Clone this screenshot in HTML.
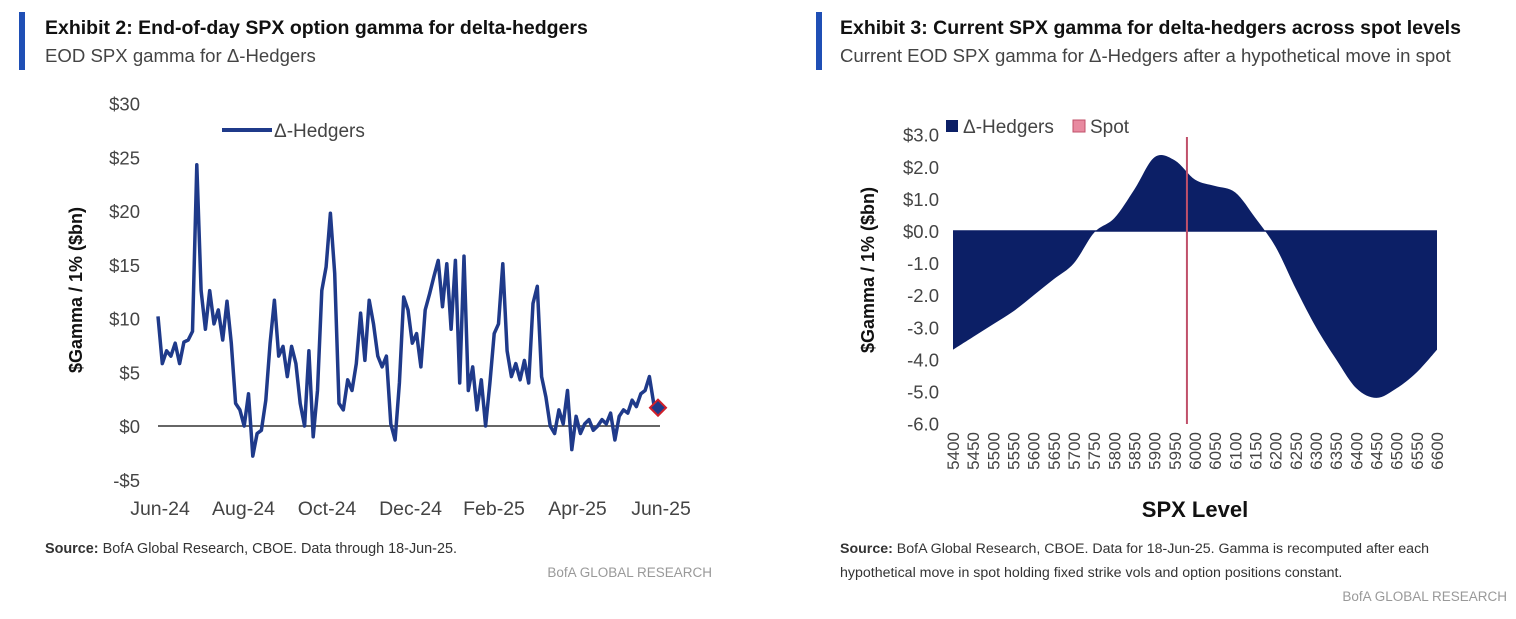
<!DOCTYPE html>
<html><head><meta charset="utf-8"><style>
body{margin:0;width:1516px;height:614px;background:#fff;font-family:"Liberation Sans",sans-serif;overflow:hidden}
</style></head><body>
<svg width="1516" height="614" xmlns="http://www.w3.org/2000/svg" font-family="Liberation Sans, sans-serif">
<g>
<rect x="19" y="12" width="6" height="58" fill="#1f4fb5"/>
<text x="45" y="34" font-size="19.5" font-weight="bold" fill="#111">Exhibit 2: End-of-day SPX option gamma for delta-hedgers</text>
<text x="45" y="62" font-size="18.6" fill="#444">EOD SPX gamma for Δ-Hedgers</text>
</g>
<g>
<rect x="816" y="12" width="6" height="58" fill="#1f4fb5"/>
<text x="840" y="34" font-size="19.5" font-weight="bold" fill="#111">Exhibit 3: Current SPX gamma for delta-hedgers across spot levels</text>
<text x="840" y="62" font-size="18.6" fill="#444">Current EOD SPX gamma for Δ-Hedgers after a hypothetical move in spot</text>
</g>
<g id="left"></g>
<g id="right"></g>
<text x="45" y="553" font-size="14.4" fill="#333"><tspan font-weight="bold">Source:</tspan> BofA Global Research, CBOE. Data through 18-Jun-25.</text>
<text x="712" y="577" font-size="13.5" fill="#999" text-anchor="end">BofA GLOBAL RESEARCH</text>
<text x="840" y="553" font-size="14.2" fill="#333"><tspan font-weight="bold">Source:</tspan> BofA Global Research, CBOE. Data for 18-Jun-25. Gamma is recomputed after each</text>
<text x="840" y="577" font-size="14.2" fill="#333">hypothetical move in spot holding fixed strike vols and option positions constant.</text>
<text x="1507" y="601" font-size="13.5" fill="#999" text-anchor="end">BofA GLOBAL RESEARCH</text>
</svg>
<script>
const leftTicks=[30,25,20,15,10,5,0,-5];
const leftDates=["Jun-24","Aug-24","Oct-24","Dec-24","Feb-25","Apr-25","Jun-25"];
const gammaSeries=[10.2,5.8,7,6.5,7.7,5.8,7.8,8,8.8,24.3,12.6,9,12.6,9.5,10.8,8,11.6,7.7,2.1,1.5,0,3,-2.8,-0.7,-0.4,2.4,7.7,11.7,6.5,7.4,4.6,7.4,5.8,2.1,0,7,-1,3.3,12.6,14.8,19.8,14.2,2.1,1.5,4.3,3.3,5.8,10.5,6.1,11.7,9.5,6.5,5.5,6.5,0.2,-1.3,4,12,10.8,7.7,8.6,5.5,10.8,12.3,13.9,15.4,11.1,15.1,9,15.4,4,15.8,3.3,5.5,1.5,4.3,0,4,8.6,9.5,15.1,7,4.6,5.8,4.3,6.1,4,11.4,13,4.6,2.7,0,-0.7,1.5,0.2,3.3,-2.2,0.9,-0.7,0.2,0.6,-0.4,0,0.6,0.2,1.2,-1.3,0.9,1.5,1.2,2.4,1.8,3,3.3,4.6,2.1];
const lastPoint=1.7;
const spxLevels=[5400,5450,5500,5550,5600,5650,5700,5750,5800,5850,5900,5950,6000,6050,6100,6150,6200,6250,6300,6350,6400,6450,6500,6550,6600];
const spxGamma=[-3.7,-3.3,-2.9,-2.5,-2.0,-1.5,-1.0,-0.05,0.4,1.3,2.3,2.2,1.6,1.4,1.2,0.4,-0.5,-1.8,-3.0,-4.0,-4.9,-5.2,-4.9,-4.4,-3.7];
const rightTicks=[3,2,1,0,-1,-2,-3,-4,-5,-6];
const spotLevel=5980;
const NS="http://www.w3.org/2000/svg";
function mk(p,t,a,txt){const e=document.createElementNS(NS,t);for(const k in a)e.setAttribute(k,a[k]);if(txt!==undefined)e.textContent=txt;p.appendChild(e);return e;}
// left
const L=document.getElementById('left');
const ly=v=>426-v*10.75, lx=i=>158+i*(500/(gammaSeries.length));
leftTicks.forEach(t=>{const e=mk(L,'text',{x:140,y:ly(t)+7,'font-size':18.5,'text-anchor':'end',fill:'#444'},(t<0?'-$'+(-t):'$'+t));

});
leftDates.forEach((d,i)=>{const e=mk(L,'text',{x:160+i*83.5,y:515,'font-size':19.5,'text-anchor':'middle',fill:'#444'},d);

});
const lt=mk(L,'text',{x:0,y:0,transform:'translate(82,290) rotate(-90)','font-size':18,'font-weight':'bold','text-anchor':'middle',fill:'#111'},'$Gamma / 1% ($bn)');


const zl=mk(L,'line',{x1:158,x2:660,y1:ly(0),y2:ly(0),stroke:'#333','stroke-width':1.5});


let d='';gammaSeries.forEach((v,i)=>{d+=(i?'L':'M')+lx(i).toFixed(1)+','+ly(v).toFixed(1);});
d+='L'+lx(gammaSeries.length).toFixed(1)+','+ly(lastPoint).toFixed(1);
const ln=mk(L,'path',{d:d,fill:'none',stroke:'#1f3a8a','stroke-width':3.5,'stroke-linejoin':'round'});


const dx=lx(gammaSeries.length),dy=ly(lastPoint);
const dm=mk(L,'path',{d:`M${dx-8},${dy}L${dx},${dy-8}L${dx+8},${dy}L${dx},${dy+8}Z`,fill:'#1f3a8a',stroke:'#d0202a','stroke-width':2});


const lg=mk(L,'line',{x1:222,x2:272,y1:130,y2:130,stroke:'#1f3a8a','stroke-width':4});


const lgt=mk(L,'text',{x:274,y:137,'font-size':19,fill:'#444'},'Δ-Hedgers');


// right
const R=document.getElementById('right');
const ry=v=>231-v*32.1, rx=s=>953+(s-5400)/1200*484;
rightTicks.forEach(t=>{const e=mk(R,'text',{x:939,y:ry(t)+7,'font-size':18.5,'text-anchor':'end',fill:'#444'},(t<0?'-':'$')+Math.abs(t).toFixed(1));

});
spxLevels.forEach(s=>{const e=mk(R,'text',{x:0,y:0,transform:`translate(${rx(s)+6},432) rotate(-90)`,'font-size':17,'text-anchor':'end',fill:'#444'},String(s));

});
const pts=spxLevels.map((s,i)=>[rx(s),ry(spxGamma[i])]);
let p='M'+rx(spxLevels[0])+','+ry(0)+'L'+pts[0][0]+','+pts[0][1];
for(let i=0;i<pts.length-1;i++){const p0=pts[Math.max(0,i-1)],p1=pts[i],p2=pts[i+1],p3=pts[Math.min(pts.length-1,i+2)];
p+=`C${p1[0]+(p2[0]-p0[0])/6},${p1[1]+(p2[1]-p0[1])/6} ${p2[0]-(p3[0]-p1[0])/6},${p2[1]-(p3[1]-p1[1])/6} ${p2[0]},${p2[1]}`;}
p+='L'+rx(spxLevels[spxLevels.length-1])+','+ry(0)+'Z';
const ar=mk(R,'path',{d:p,fill:'#0c1f66'});


const z2=mk(R,'line',{x1:953,x2:1437,y1:ry(0),y2:ry(0),stroke:'#0c1f66','stroke-width':1.5});


const sp=mk(R,'line',{x1:rx(spotLevel),x2:rx(spotLevel),y1:137,y2:424,stroke:'#c0506a','stroke-width':2});


const rt=mk(R,'text',{x:0,y:0,transform:'translate(874,270) rotate(-90)','font-size':18,'font-weight':'bold','text-anchor':'middle',fill:'#111'},'$Gamma / 1% ($bn)');


const xt=mk(R,'text',{x:1195,y:517,'font-size':22,'font-weight':'bold','text-anchor':'middle',fill:'#111'},'SPX Level');


const s1=mk(R,'rect',{x:946,y:120,width:12,height:12,fill:'#0c1f66'});


const t1=mk(R,'text',{x:963,y:133,'font-size':19,fill:'#444'},'Δ-Hedgers');


const s2=mk(R,'rect',{x:1073,y:120,width:12,height:12,fill:'#e88aa0',stroke:'#c0506a'});


const t2=mk(R,'text',{x:1090,y:133,'font-size':19,fill:'#444'},'Spot');


</script>
</body></html>
